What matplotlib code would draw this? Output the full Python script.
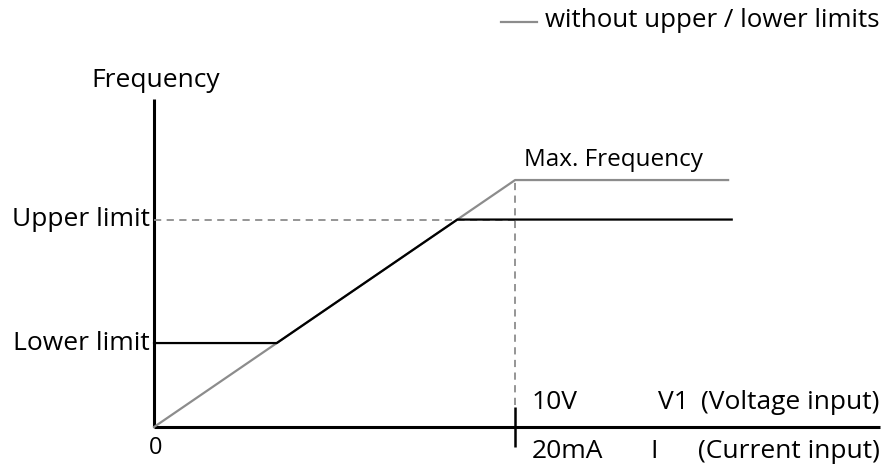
import matplotlib
matplotlib.use("Agg")
import matplotlib.pyplot as plt

plt.rcParams.update({"font.family": ["Open Sans", "DejaVu Sans"]})

GREY = "#8c8c8c"

# input in volts (10 V = 20 mA), output frequency in % of max frequency
v_max = 10.0
v_end = 15.9
f_max = 100.0
f_upper = 84.0
f_lower = 34.0

# without limits: straight ramp to max frequency, then flat
free_x = [0.0, v_max, v_end]
free_y = [0.0, f_max, f_max]

# with limits: clamped to lower / upper
v_lo = v_max * f_lower / f_max
v_hi = v_max * f_upper / f_max
lim_x = [0.0, v_lo, v_hi, v_end + 0.1]
lim_y = [f_lower, f_lower, f_upper, f_upper]

fig = plt.figure(figsize=(8.83, 4.69), dpi=100)
ax = fig.add_axes([0, 0, 1, 1])
ax.set_xlim(-4.266, 20.19)
ax.set_ylim(-17.0, 172.9)
ax.axis("off")

# axes of the diagram
ax.plot([0, 0], [0, 132.8], color="black", lw=2.2, solid_capstyle="butt")
ax.plot([0, 20.11], [0, 0], color="black", lw=2.2, solid_capstyle="butt")

# guides
ax.plot([0, v_max], [f_upper, f_upper], color=GREY, lw=1.3, ls=(0, (4, 3)))
ax.plot([v_max, v_max], [8.9, f_max], color=GREY, lw=1.3, ls=(0, (4, 3)))
ax.plot([v_max, v_max], [-8.1, 8.1], color="black", lw=1.8, solid_capstyle="butt")

# curves: grey first so the limited curve sits on top where they share the ramp
ax.plot(free_x, free_y, color=GREY, lw=1.6)
ax.plot(lim_x, lim_y, color="black", lw=1.6)

fs = 19
ax.text(0.05, 137.5, "Frequency", ha="center", va="baseline", fontsize=fs)
ax.text(-0.12, f_upper, "Upper limit", ha="right", va="center", fontsize=fs)
ax.text(-0.12, f_lower, "Lower limit", ha="right", va="center", fontsize=fs)
ax.text(0.05, -8.3, "0", ha="center", va="center", fontsize=fs - 2)
ax.text(10.25, f_max + 8, "Max. Frequency", ha="left", va="center", fontsize=fs - 1.5)
ax.text(10.45, 10, "10V", ha="left", va="center", fontsize=fs)
ax.text(13.95, 10, "V1", ha="left", va="center", fontsize=fs)
ax.text(20.1, 10, "(Voltage input)", ha="right", va="center", fontsize=fs)
ax.text(10.45, -10, "20mA", ha="left", va="center", fontsize=fs)
ax.text(13.85, -10, "I", ha="center", va="center", fontsize=fs)
ax.text(20.1, -10, "(Current input)", ha="right", va="center", fontsize=fs)

# legend entry
ax.plot([9.6, 10.6], [164, 164], color=GREY, lw=1.6)
ax.text(20.1, 164.8, "without upper / lower limits", ha="right", va="center",
        fontsize=fs - 0.4)

fig.savefig("out.png", dpi=100)
